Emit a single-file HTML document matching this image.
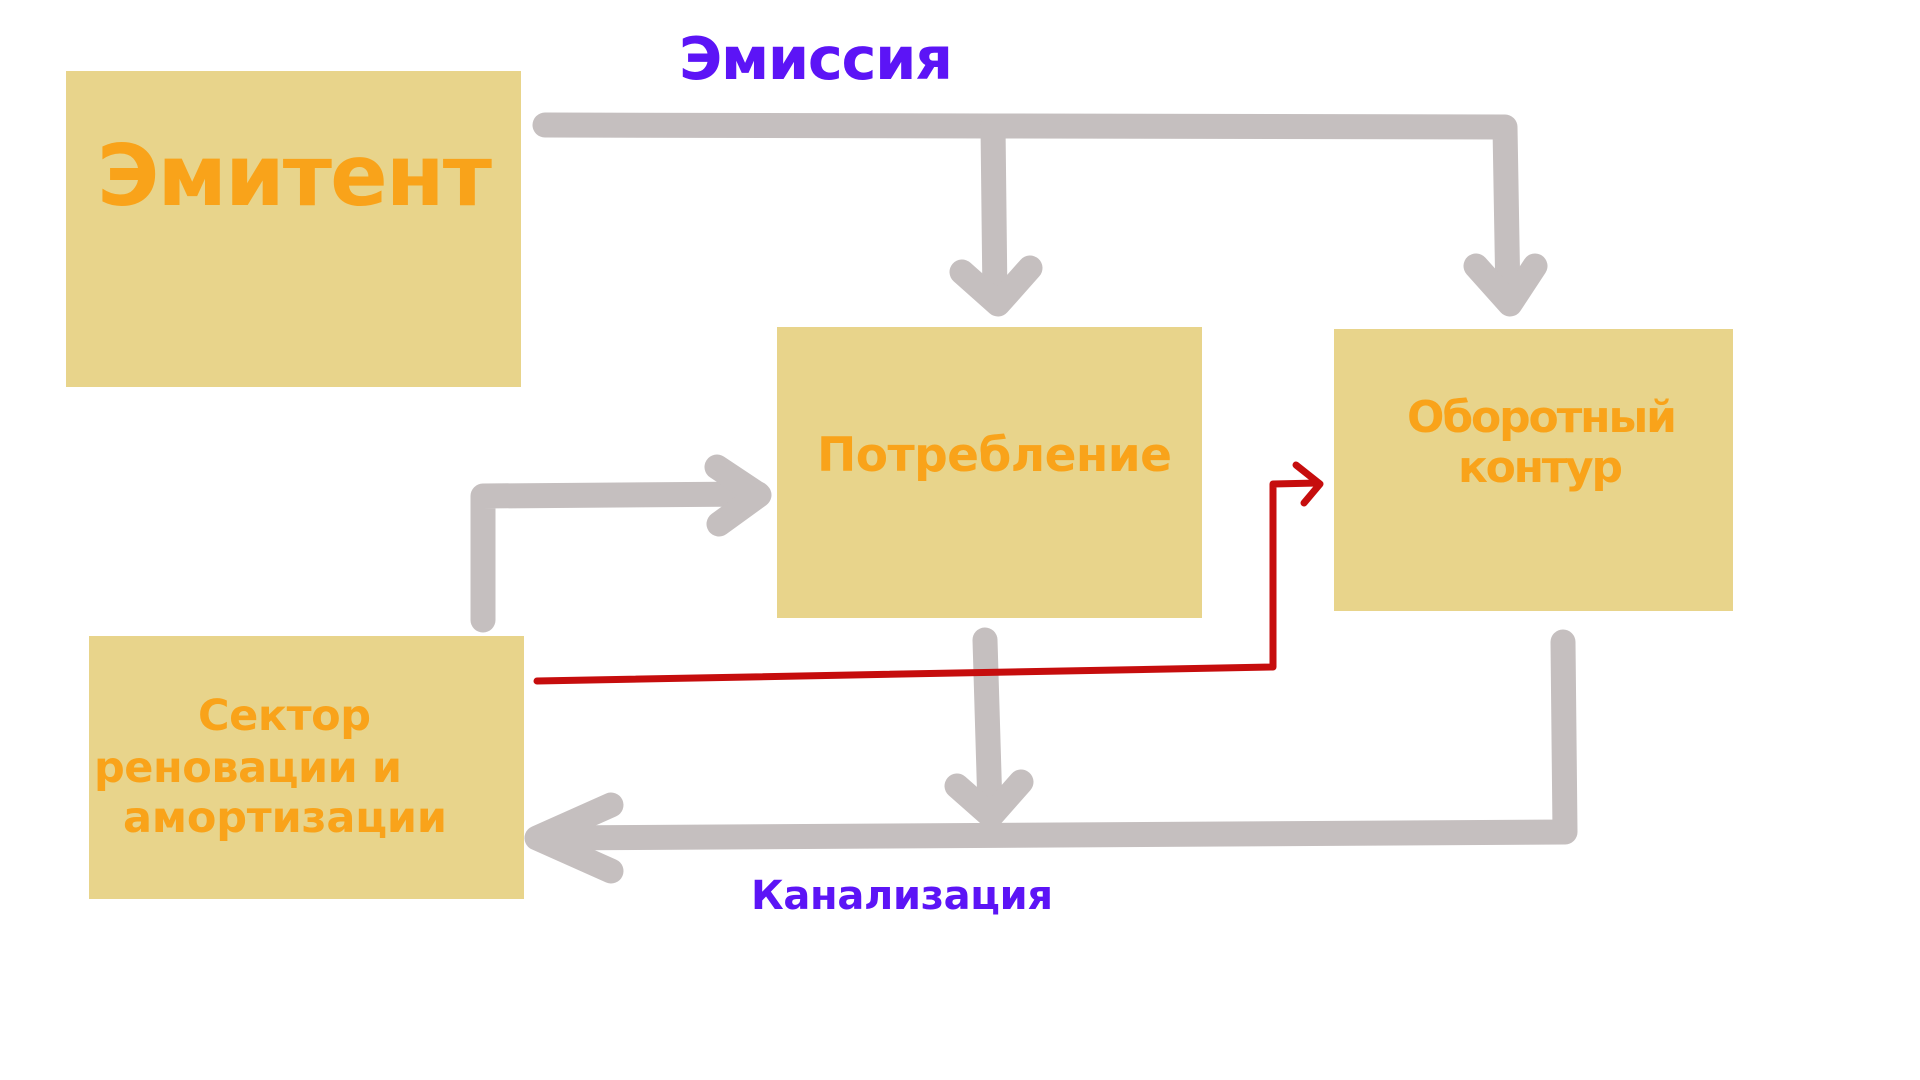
<!DOCTYPE html>
<html>
<head>
<meta charset="utf-8">
<style>
  html, body { margin:0; padding:0; background:#ffffff; }
  body { width:1920px; height:1080px; overflow:hidden; }
  svg { display:block; }
  text { font-family: "DejaVu Sans", "Liberation Sans", "Noto Sans CJK SC", sans-serif; font-weight: bold; }
</style>
</head>
<body>
<svg width="1920" height="1080" viewBox="0 0 1920 1080" xmlns="http://www.w3.org/2000/svg">
  <rect x="0" y="0" width="1920" height="1080" fill="#ffffff"/>

  <!-- Boxes -->
  <rect x="66" y="71" width="455" height="316" fill="#e8d48b"/>
  <rect x="777" y="327" width="425" height="291" fill="#e8d48b"/>
  <rect x="1334" y="329" width="399" height="282" fill="#e8d48b"/>
  <rect x="89" y="636" width="435" height="263" fill="#e8d48b"/>

  <!-- Gray connectors -->
  <g fill="none" stroke="#c5bfbf" stroke-width="25" stroke-linecap="round" stroke-linejoin="round">
    <!-- top bar -->
    <polyline points="545,125 993,126 1505,127 1508,300"/>
    <line x1="993" y1="126" x2="995" y2="300"/>
    <polyline points="962,272 998,304 1030,268"/>
    <polyline points="1476,266 1510,304 1535,266"/>

    <!-- L arrow to Потребление -->
    <polyline points="483,620 483,496 758,494"/>
    <polyline points="717,467 759,495 719,524"/>

    <!-- middle down -->
    <line x1="985" y1="640" x2="990" y2="808"/>
    <polyline points="957,786 991,816 1021,782"/>

    <!-- right vertical and bottom bar -->
    <polyline points="1563,642 1565,832 540,838"/>
    <polyline points="611,805 537,838 611,871"/>
  </g>

  <!-- Red connector -->
  <g fill="none" stroke="#c60d0d" stroke-width="7" stroke-linecap="round" stroke-linejoin="round">
    <polyline points="537,681 1273,667 1273,484 1318,483"/>
    <polyline points="1296,465 1320,484 1304,503"/>
  </g>

  <!-- Texts -->
  <text x="97" y="205" font-size="85" fill="#f9a31a" textLength="395" lengthAdjust="spacing">Эмитент</text>
  <text x="679" y="79" font-size="59" fill="#5c14f6" textLength="274" lengthAdjust="spacing">Эмиссия</text>
  <text x="817" y="471" font-size="47" fill="#f9a31a" textLength="355" lengthAdjust="spacing">Потребление</text>
  <text x="1407" y="432" font-size="44" fill="#f9a31a" textLength="270" lengthAdjust="spacing">Оборотный</text>
  <text x="1458" y="482" font-size="44" fill="#f9a31a" textLength="165" lengthAdjust="spacing">контур</text>
  <text x="198" y="730" font-size="43" fill="#f9a31a" textLength="173" lengthAdjust="spacing">Сектор</text>
  <text x="94" y="782" font-size="43" fill="#f9a31a" textLength="308" lengthAdjust="spacing">реновации и</text>
  <text x="123" y="832" font-size="43" fill="#f9a31a" textLength="324" lengthAdjust="spacing">амортизации</text>
  <text x="751" y="909" font-size="40" fill="#5c14f6" textLength="302" lengthAdjust="spacing">Канализация</text>
</svg>
</body>
</html>
